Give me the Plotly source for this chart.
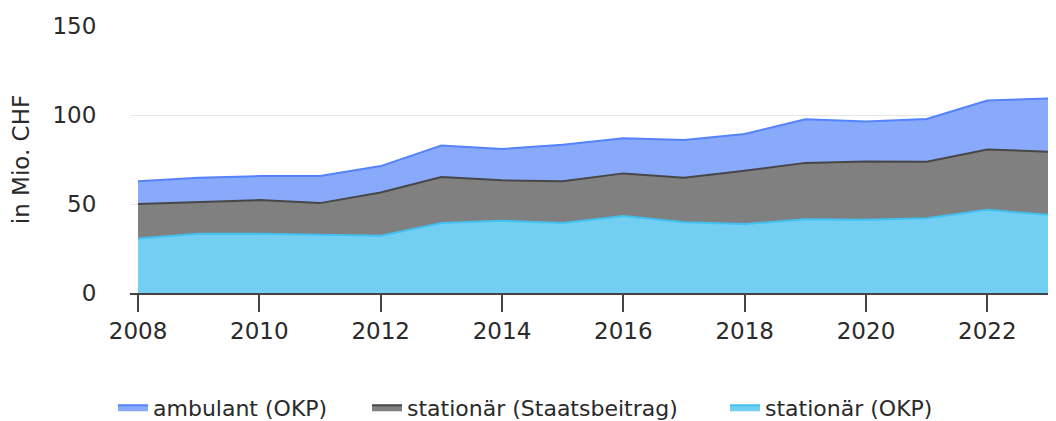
import plotly.graph_objects as go

years = list(range(2008, 2024))
stationaer_okp = [30.6, 33.3, 33.3, 32.6, 32.2, 39.3, 40.6, 39.3, 43.3, 39.8, 38.7, 41.5, 41.1, 42.0, 46.7, 43.9]
stationaer_staat = [19.4, 17.6, 18.9, 17.9, 24.3, 25.9, 22.7, 23.5, 23.9, 25.0, 30.0, 31.6, 32.8, 31.7, 33.9, 35.5]
ambulant_okp = [12.8, 13.9, 13.5, 15.2, 14.8, 17.6, 17.6, 20.5, 19.8, 21.1, 20.6, 24.5, 22.4, 24.1, 27.5, 29.9]

series_names = ["stationär (OKP)", "stationär (Staatsbeitrag)", "ambulant (OKP)"]
x_ticks = [2008, 2010, 2012, 2014, 2016, 2018, 2020, 2022]
y_ticks = [0, 50, 100, 150]

fig = go.Figure()
fig.add_trace(go.Scatter(x=years, y=stationaer_okp, name=series_names[0], stackgroup="one",
                         mode="lines", line=dict(color="#42c1f0", width=2),
                         fillcolor="#72cff1", legend="legend3"))
fig.add_trace(go.Scatter(x=years, y=stationaer_staat, name=series_names[1], stackgroup="one",
                         mode="lines", line=dict(color="#474747", width=2),
                         fillcolor="#808080", legend="legend2"))
fig.add_trace(go.Scatter(x=years, y=ambulant_okp, name=series_names[2], stackgroup="one",
                         mode="lines", line=dict(color="#5483fc", width=2),
                         fillcolor="#89a9fb", legend="legend"))

font_family = "DejaVu Sans, sans-serif"
fs = 23
txt = "#2a2a2a"
W, H = 1048, 413


def leg(px_left):
    return dict(orientation="h", x=px_left / W, xanchor="left", xref="container",
                y=0.033, yanchor="middle", yref="container",
                font=dict(size=22, color=txt), itemwidth=30, bgcolor="rgba(0,0,0,0)")


fig.update_layout(
    width=W, height=H,
    margin=dict(l=122, r=0, t=18, b=128, autoexpand=False),
    paper_bgcolor="white", plot_bgcolor="white",
    font=dict(family=font_family, size=fs, color=txt),
    showlegend=True,
    legend=leg(105), legend2=leg(359), legend3=leg(717),
    xaxis=dict(range=[2007.868, 2023.132], tickvals=x_ticks, ticktext=[str(t) for t in x_ticks],
               showgrid=False, zeroline=False, showline=True, linecolor="#444444", linewidth=1.5,
               ticks="outside", ticklen=17, tickcolor="#444444", tickwidth=1.5,
               tickfont=dict(size=fs, color=txt), automargin=False),
    yaxis=dict(range=[0, 150], tickvals=y_ticks, showgrid=True, gridcolor="#e6e6e6", gridwidth=1,
               zeroline=False, showline=False, ticks="outside", ticklen=28, tickcolor="rgba(0,0,0,0)",
               tickfont=dict(size=fs, color=txt), automargin=False,
               title=dict(text="in Mio. CHF", font=dict(size=fs, color=txt), standoff=19)),
)

fig.write_html("out.html")
